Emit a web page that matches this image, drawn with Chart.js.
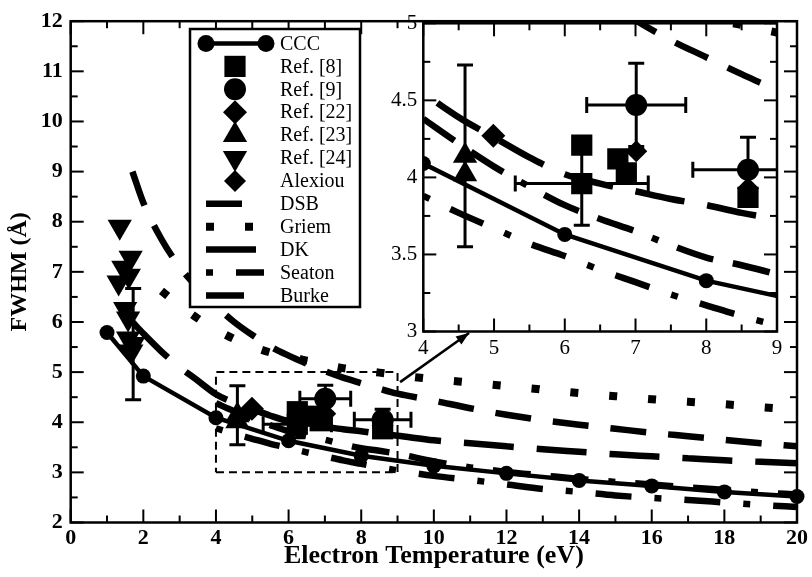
<!DOCTYPE html>
<html>
<head>
<meta charset="utf-8">
<script src="https://cdn.jsdelivr.net/npm/chart.js@4.4.1/dist/chart.umd.min.js"></script>
<style>
  html, body { margin: 0; padding: 0; background: #fff; }
  #wrap { position: relative; width: 812px; height: 577px; }
  #main { position: absolute; left: 0; top: 0; }
  #inset { position: absolute; left: 380px; top: 0; }
</style>
</head>
<body>
<div id="wrap">
  <canvas id="main" width="812" height="577"></canvas>
  <canvas id="inset" width="420" height="360"></canvas>
</div>
<script>
// CCC calculation
const cccT = [1, 2, 4, 6, 8, 10, 12, 14, 16, 18, 20];
const cccW = [5.79, 4.92, 4.09, 3.63, 3.33, 3.13, 2.98, 2.84, 2.73, 2.61, 2.52];

// theory curves
const dsbT = [1.7, 2, 2.5, 3, 3.5, 4, 4.5, 5, 5.5, 6, 6.5, 7, 7.5, 8, 8.5, 9, 10, 11, 12, 13, 14, 15, 16, 17, 18, 19, 20];
const dsbW = [9.0, 8.38, 7.65, 7.1, 6.68, 6.32, 6.0, 5.74, 5.51, 5.33, 5.17, 5.02, 4.89, 4.78, 4.67, 4.57, 4.43, 4.28, 4.15, 4.04, 3.95, 3.87, 3.79, 3.72, 3.65, 3.58, 3.52];

const griemT = [2.5, 3, 3.5, 4, 4.5, 5, 5.5, 6, 6.5, 7, 7.5, 8, 8.5, 9, 10, 11, 12, 13, 14, 15, 16, 17, 18, 19, 20];
const griemW = [6.62, 6.33, 6.07, 5.85, 5.66, 5.51, 5.39, 5.31, 5.23, 5.15, 5.08, 5.03, 4.99, 4.94, 4.86, 4.79, 4.72, 4.65, 4.58, 4.52, 4.46, 4.41, 4.36, 4.30, 4.25];

const dkT = [1.7, 2, 2.5, 3, 3.5, 4, 4.5, 5, 5.5, 6, 6.5, 7, 7.5, 8, 8.5, 9, 10, 11, 12, 13, 14, 15, 16, 17, 18, 19, 20];
const dkW = [6.0, 5.77, 5.41, 5.1, 4.83, 4.56, 4.39, 4.26, 4.13, 4.02, 3.96, 3.91, 3.86, 3.82, 3.77, 3.73, 3.64, 3.58, 3.52, 3.46, 3.41, 3.36, 3.32, 3.28, 3.24, 3.21, 3.18];

const seatonT = [4, 4.5, 5, 5.5, 6, 6.5, 7, 7.5, 8, 8.5, 9, 10, 11, 12, 13, 14, 15, 16, 17, 18, 19, 20];
const seatonW = [3.88, 3.77, 3.67, 3.57, 3.49, 3.40, 3.32, 3.24, 3.17, 3.10, 3.04, 2.93, 2.85, 2.76, 2.67, 2.61, 2.54, 2.49, 2.45, 2.40, 2.35, 2.31];

const burkeT = [4, 4.5, 5, 5.5, 6, 6.5, 7, 7.5, 8, 8.5, 9, 10, 11, 12, 13, 14, 15, 16, 17, 18, 19, 20];
const burkeW = [4.38, 4.22, 4.07, 3.94, 3.82, 3.73, 3.65, 3.56, 3.48, 3.43, 3.37, 3.22, 3.10, 3.01, 2.94, 2.87, 2.81, 2.76, 2.70, 2.65, 2.60, 2.56];

// measurements (value, error in T, error in W)
const ref8T = [6.24, 6.24, 6.75, 6.87, 8.59];
const ref8W = [4.21, 3.96, 4.12, 4.03, 3.87];
const ref8dT = [0, 0.94, 0, 0, 0];
const ref8dW = [0, 0.27, 0, 0, 0];

const ref9T = [7.01, 8.59];
const ref9W = [4.47, 4.05];
const ref9dT = [0.70, 0.78];
const ref9dW = [0.27, 0.21];

const ref22T = [4.99];
const ref22W = [4.27];

const ref23T = [4.59, 4.59];
const ref23W = [4.14, 4.02];
const ref23dW = [0.59, 0];

const ref24T = [1.35, 1.65, 1.45, 1.6, 1.32, 1.5, 1.58, 1.58, 1.72, 1.67];
const ref24W = [7.9, 7.28, 7.08, 6.92, 6.79, 6.26, 6.07, 5.67, 5.56, 5.41];
const ref24dW = [0, 0, 0, 0, 0, 0, 0, 0, 1.11, 0];

const alexT = [7.01, 8.59];
const alexW = [4.17, 3.93];

// zoom box and arrow (main plot only)
const boxT = [4, 9, 9, 4, 4];
const boxW = [3, 3, 5, 5, 3];
const arrowT = [9.07, 10.97];
const arrowW = [4.80, 5.78];

const FONT = '"Liberation Serif", "Times New Roman", serif';

function pts(xs, ys) {
  return xs.map((x, i) => ({ x: x, y: ys[i] }));
}

function curve(label, xs, ys, dash, width, clip) {
  return {
    label, data: pts(xs, ys), borderColor: '#000', borderWidth: width,
    borderDash: dash, borderCapStyle: 'butt', pointRadius: 0,
    cubicInterpolationMode: 'monotone', fill: false, clip
  };
}

function marks(label, xs, ys, style, radius, rotation, errT, errW, clip) {
  return {
    label, data: pts(xs, ys), showLine: false, pointStyle: style,
    pointRadius: radius, pointRotation: rotation, borderColor: '#000',
    pointBackgroundColor: '#000', pointBorderWidth: 0, errT, errW, clip
  };
}

function buildSets(inset) {
  const clip = inset ? 0 : false;
  const sets = [
    {
      label: 'CCC', data: pts(cccT, cccW), borderColor: '#000', borderWidth: 4.5,
      pointStyle: 'circle', pointRadius: 7.5, pointBackgroundColor: '#000',
      pointBorderWidth: 0, tension: 0, clip
    },
    marks('Ref. [8]', ref8T, ref8W, 'rect', 15, 0, ref8dT, ref8dW, clip),
    marks('Ref. [9]', ref9T, ref9W, 'circle', 11, 0, ref9dT, ref9dW, clip),
    marks('Ref. [22]', ref22T, ref22W, 'rectRot', 12, 0, null, null, clip),
    marks('Ref. [23]', ref23T, ref23W, 'triangle', 14, 0, null, ref23dW, clip),
    marks('Ref. [24]', ref24T, ref24W, 'triangle', 14, 180, null, ref24dW, clip),
    marks('Alexiou', alexT, alexW, 'rectRot', 11, 0, null, null, clip),
    curve('DSB', dsbT, dsbW, [36, 22], 6.5, clip),
    curve('Griem', griemT, griemW, [8, 31], 8, clip),
    curve('DK', dkT, dkW, [50, 23], 6.5, clip),
    curve('Seaton', seatonT, seatonW, [7, 23, 36, 23], 6.5, clip),
    curve('Burke', burkeT, burkeW, [38, 20, 38, 20, 7, 20], 6.5, clip)
  ];
  if (!inset) {
    sets.push({
      label: '', data: pts(boxT, boxW), borderColor: '#000', borderWidth: 2,
      borderDash: [8, 5], pointRadius: 0, tension: 0, clip
    });
    sets.push({
      label: '', data: pts(arrowT, arrowW), borderColor: '#000', borderWidth: 2.5,
      pointRadius: 0, tension: 0, arrow: true, clip
    });
  }
  return sets;
}

const whiteArea = {
  id: 'whiteArea',
  beforeDraw(chart) {
    const { ctx, chartArea: a } = chart;
    ctx.save();
    ctx.fillStyle = '#fff';
    ctx.fillRect(a.left, a.top, a.right - a.left, a.bottom - a.top);
    ctx.restore();
  }
};

const errorBars = {
  id: 'errorBars',
  afterDatasetsDraw(chart) {
    const { ctx, chartArea: a, scales: { x, y } } = chart;
    const cap = 8;
    ctx.save();
    ctx.beginPath();
    ctx.rect(a.left, a.top, a.right - a.left, a.bottom - a.top);
    ctx.clip();
    ctx.strokeStyle = '#000';
    ctx.lineWidth = 3;
    const seg = (x1, y1, x2, y2) => {
      ctx.beginPath(); ctx.moveTo(x1, y1); ctx.lineTo(x2, y2); ctx.stroke();
    };
    chart.data.datasets.forEach(ds => {
      if (!ds.errT && !ds.errW) return;
      ds.data.forEach((p, i) => {
        const dx = ds.errT ? ds.errT[i] : 0;
        const dy = ds.errW ? ds.errW[i] : 0;
        const cx = x.getPixelForValue(p.x);
        const cy = y.getPixelForValue(p.y);
        if (dx) {
          const l = x.getPixelForValue(p.x - dx), r = x.getPixelForValue(p.x + dx);
          seg(l, cy, r, cy);
          seg(l, cy - cap, l, cy + cap);
          seg(r, cy - cap, r, cy + cap);
        }
        if (dy) {
          const t = y.getPixelForValue(p.y + dy), b = y.getPixelForValue(p.y - dy);
          seg(cx, t, cx, b);
          seg(cx - cap, t, cx + cap, t);
          seg(cx - cap, b, cx + cap, b);
        }
      });
    });
    ctx.restore();
  }
};

const arrowHead = {
  id: 'arrowHead',
  afterDatasetsDraw(chart) {
    const ctx = chart.ctx;
    chart.data.datasets.forEach((ds, i) => {
      if (!ds.arrow) return;
      const el = chart.getDatasetMeta(i).data;
      const a = el[el.length - 2], b = el[el.length - 1];
      const ang = Math.atan2(b.y - a.y, b.x - a.x);
      ctx.save();
      ctx.fillStyle = '#000';
      ctx.translate(b.x, b.y);
      ctx.rotate(ang);
      ctx.beginPath();
      ctx.moveTo(0, 0);
      ctx.lineTo(-13, -5);
      ctx.lineTo(-13, 5);
      ctx.closePath();
      ctx.fill();
      ctx.restore();
    });
  }
};

// inward ticks on all four sides plus the frame
const frameTicks = {
  id: 'frameTicks',
  afterDatasetsDraw(chart, args, o) {
    const { ctx, chartArea: a, scales: { x, y } } = chart;
    ctx.save();
    ctx.strokeStyle = '#000';
    ctx.lineWidth = 2;
    const seg = (x1, y1, x2, y2) => {
      ctx.beginPath(); ctx.moveTo(x1, y1); ctx.lineTo(x2, y2); ctx.stroke();
    };
    const nx = Math.round((x.max - x.min) / o.xMinor);
    for (let k = 0; k <= nx; k++) {
      const v = x.min + k * o.xMinor;
      const len = (k % Math.round(o.xMajor / o.xMinor) === 0) ? 13 : 7;
      const px = x.getPixelForValue(v);
      seg(px, a.bottom, px, a.bottom - len);
      seg(px, a.top, px, a.top + len);
    }
    const ny = Math.round((y.max - y.min) / o.yMinor);
    for (let k = 0; k <= ny; k++) {
      const v = y.min + k * o.yMinor;
      const len = (k % Math.round(o.yMajor / o.yMinor) === 0) ? 13 : 7;
      const py = y.getPixelForValue(v);
      seg(a.left, py, a.left + len, py);
      seg(a.right, py, a.right - len, py);
    }
    ctx.lineWidth = 2.5;
    ctx.strokeRect(a.left, a.top, a.right - a.left, a.bottom - a.top);
    ctx.restore();
  }
};

function marker(ctx, ds, x, y, r) {
  Chart.helpers.drawPoint(ctx, {
    pointStyle: ds.pointStyle, radius: r || ds.pointRadius,
    rotation: ds.pointRotation || 0, borderWidth: 0
  }, x, y);
}

const boxLegend = {
  id: 'boxLegend',
  afterDraw(chart, args, o) {
    const ctx = chart.ctx;
    const items = chart.data.datasets.filter(d => d.label);
    ctx.save();
    ctx.fillStyle = '#fff';
    ctx.fillRect(o.left, o.top, o.width, o.height);
    ctx.strokeStyle = '#000';
    ctx.lineWidth = 2.5;
    ctx.strokeRect(o.left, o.top, o.width, o.height);
    items.forEach((ds, i) => {
      const cy = o.top + o.first + i * o.row;
      ctx.fillStyle = '#000';
      ctx.strokeStyle = '#000';
      if (ds.showLine !== false) {
        const end = ds.pointRadius > 0 ? o.lineTo : o.dashTo;
        ctx.lineWidth = ds.borderWidth;
        ctx.lineCap = 'butt';
        ctx.setLineDash(ds.borderDash || []);
        ctx.beginPath();
        ctx.moveTo(o.lineFrom, cy);
        ctx.lineTo(end, cy);
        ctx.stroke();
        ctx.setLineDash([]);
        if (ds.pointRadius > 0) {
          marker(ctx, ds, o.lineFrom, cy, 8.5);
          marker(ctx, ds, end, cy, 8.5);
        }
      } else {
        marker(ctx, ds, o.markX, cy);
      }
      ctx.fillStyle = '#000';
      ctx.font = '20px ' + FONT;
      ctx.textBaseline = 'middle';
      ctx.textAlign = 'left';
      ctx.fillText(ds.label, o.textX, cy + 1);
    });
    ctx.restore();
  }
};

const base = {
  responsive: false,
  animation: false,
  devicePixelRatio: 1,
  events: []
};

new Chart(document.getElementById('main'), {
  type: 'line',
  data: { datasets: buildSets(false) },
  options: {
    ...base,
    layout: { padding: { left: 0, right: 11.5, top: 14, bottom: 0 } },
    plugins: {
      legend: { display: false },
      tooltip: { enabled: false },
      frameTicks: { xMajor: 2, xMinor: 1, yMajor: 1, yMinor: 0.5 },
      boxLegend: {
        left: 190, top: 29, width: 170, height: 278, first: 14.5, row: 22.9,
        lineFrom: 206, lineTo: 266, dashTo: 264, markX: 235, textX: 280
      }
    },
    scales: {
      x: {
        type: 'linear', min: 0, max: 20,
        ticks: { stepSize: 2, color: '#000', padding: 3, maxRotation: 0, autoSkip: false,
                 font: { family: FONT, size: 22, weight: 'bold' } },
        grid: { display: false, drawTicks: false },
        border: { display: false },
        title: { display: true, text: 'Electron Temperature (eV)', color: '#000',
                 font: { family: FONT, size: 26, weight: 'bold' }, padding: { top: 0, bottom: 5 } },
        afterFit: s => { s.height = 54.5; }
      },
      y: {
        type: 'linear', min: 2, max: 12,
        ticks: { stepSize: 1, color: '#000', padding: 8,
                 font: { family: FONT, size: 22, weight: 'bold' } },
        grid: { display: false, drawTicks: false },
        border: { display: false },
        title: { display: true, text: 'FWHM (Å)', color: '#000',
                 font: { family: FONT, size: 24, weight: 'bold' }, padding: { top: 5, bottom: 0 } },
        afterFit: s => { s.width = 70.7; }
      }
    }
  },
  plugins: [errorBars, arrowHead, frameTicks, boxLegend]
});

new Chart(document.getElementById('inset'), {
  type: 'line',
  data: { datasets: buildSets(true) },
  options: {
    ...base,
    layout: { padding: { left: 0, right: 23, top: 23.3, bottom: 0 } },
    plugins: {
      legend: { display: false },
      tooltip: { enabled: false },
      frameTicks: { xMajor: 1, xMinor: 0.5, yMajor: 0.5, yMinor: 0.25 }
    },
    scales: {
      x: {
        type: 'linear', min: 4, max: 9,
        ticks: { stepSize: 1, color: '#000', padding: 4, maxRotation: 0, autoSkip: false,
                 font: { family: FONT, size: 21 }, callback: v => String(v) },
        grid: { display: false, drawTicks: false },
        border: { display: false },
        afterFit: s => { s.height = 28.5; }
      },
      y: {
        type: 'linear', min: 3, max: 5,
        ticks: { stepSize: 0.5, color: '#000', padding: 6,
                 font: { family: FONT, size: 21 }, callback: v => String(v) },
        grid: { display: false, drawTicks: false },
        border: { display: false },
        afterFit: s => { s.width = 43.3; }
      }
    }
  },
  plugins: [whiteArea, errorBars, frameTicks]
});
</script>
</body>
</html>
